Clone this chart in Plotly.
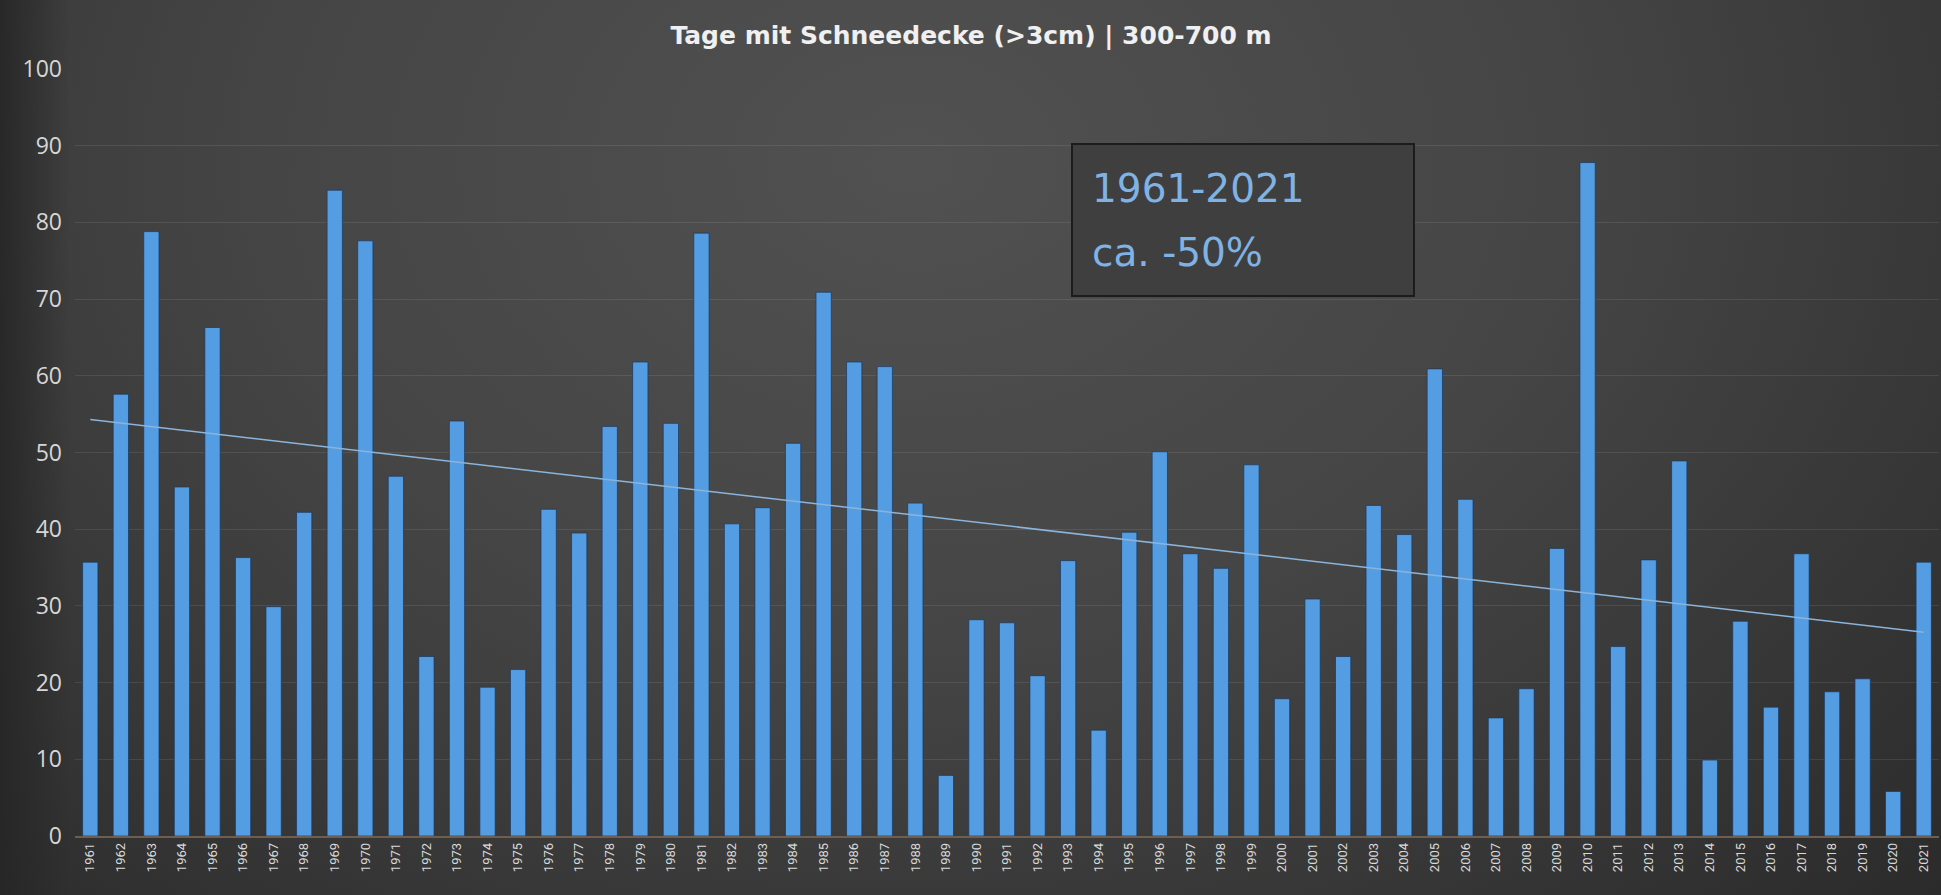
import base64
import numpy as np
import plotly.graph_objects as go

years = [str(y) for y in range(1961, 2022)]
days = [35.7, 57.6, 78.8, 45.5, 66.3, 36.3, 29.9, 42.2, 84.2, 77.6,
        46.9, 23.4, 54.1, 19.4, 21.7, 42.6, 39.5, 53.4, 61.8, 53.8,
        78.6, 40.7, 42.8, 51.2, 70.9, 61.8, 61.2, 43.4, 7.9, 28.2,
        27.8, 20.9, 35.9, 13.8, 39.6, 50.1, 36.8, 34.9, 48.4, 17.9,
        30.9, 23.4, 43.1, 39.3, 60.9, 43.9, 15.4, 19.2, 37.5, 87.8,
        24.7, 36.0, 48.9, 9.9, 28.0, 16.8, 36.8, 18.8, 20.5, 5.8, 35.7]
y_ticks = list(range(0, 101, 10))
title_text = "Tage mit Schneedecke (>3cm) | 300-700 m"
box_lines = ["1961-2021", "ca. -50%"]

# linear trend (as in the spreadsheet trendline)
idx = np.arange(len(days))
slope, intercept = np.polyfit(idx, np.array(days), 1)
trend = (slope * idx + intercept).tolist()

W, H = 1941, 895
ml, mr, mt, mb = 75, 2, 69, 59
pw, ph = W - ml - mr, H - mt - mb

svg = f'''<svg xmlns="http://www.w3.org/2000/svg" width="{W}" height="{H}" viewBox="0 0 {W} {H}" preserveAspectRatio="none">
<defs><radialGradient id="g" cx="0.47" cy="0.18" r="0.75" gradientTransform="translate(0.47 0.18) scale(1 1.6) translate(-0.47 -0.18)">
<stop offset="0" stop-color="#515151"/><stop offset="0.45" stop-color="#454545"/><stop offset="1" stop-color="#2a2a2a"/></radialGradient>
<linearGradient id="l" x1="0" x2="1" y1="0" y2="0"><stop offset="0" stop-color="#262626" stop-opacity="0.9"/><stop offset="1" stop-color="#262626" stop-opacity="0"/></linearGradient></defs>
<rect width="{W}" height="{H}" fill="url(#g)"/>
<rect width="70" height="{H}" fill="url(#l)"/>
</svg>'''
bg_src = "data:image/svg+xml;base64," + base64.b64encode(svg.encode()).decode()

fig = go.Figure()
fig.add_trace(go.Bar(
    x=years, y=days,
    marker=dict(color="#559de2", line=dict(color="rgba(25,55,95,0.7)", width=1)),
    width=0.5, showlegend=False, hoverinfo="x+y",
))
fig.add_trace(go.Scatter(
    x=years, y=trend, mode="lines",
    line=dict(color="#8ab4da", width=1.5), showlegend=False, hoverinfo="skip",
))

fig.add_layout_image(dict(
    source=bg_src, xref="paper", yref="paper",
    x=-ml / pw, y=1 + mt / ph, sizex=W / pw, sizey=H / ph,
    xanchor="left", yanchor="top", sizing="stretch", layer="below",
))

# annotation box
fig.add_shape(type="rect", xref="paper", yref="paper",
              x0=(1072 - ml) / pw, x1=(1414 - ml) / pw,
              y0=(H - mb - 296) / ph, y1=(H - mb - 144) / ph,
              fillcolor="#3f3f3f", line=dict(color="#1c1c1c", width=2), layer="above")
for i, t in enumerate(box_lines):
    yc = [188, 253][i]
    fig.add_annotation(text=t, xref="paper", yref="paper",
                       x=(1090 - ml) / pw, y=(H - mb - yc) / ph,
                       xanchor="left", yanchor="middle", showarrow=False,
                       font=dict(family="DejaVu Sans", size=39, color="#7fb3e6"))

fig.update_layout(
    width=W, height=H,
    margin=dict(l=ml, r=mr, t=mt, b=mb, pad=0),
    paper_bgcolor="#303030", plot_bgcolor="rgba(0,0,0,0)",
    title=dict(text=f"<b>{title_text}</b>", x=(971) / W, xanchor="center",
               y=1 - 35 / H, yanchor="middle",
               font=dict(family="DejaVu Sans", size=25, color="#f0f0f0")),
    bargap=0.5,
    xaxis=dict(type="category", tickangle=-90, showgrid=False,
               tickfont=dict(family="Liberation Sans Narrow, Roboto", size=13, color="#d8d8d8"),
               showline=True, linecolor="#6e5e50", linewidth=1.5, ticks="",
               range=[-0.5, len(years) - 0.5]),
    yaxis=dict(range=[0, 100], tickvals=y_ticks, showgrid=True,
               gridcolor="rgba(255,255,255,0.09)", gridwidth=1, zeroline=False,
               ticks="", ticklabelstandoff=12,
               tickfont=dict(family="Open Sans", size=23, color="#d6d6d6")),
    hovermode="closest",
)

fig.write_html("out.html", config={"displayModeBar": False},
               post_script="document.body.style.margin='0';")
